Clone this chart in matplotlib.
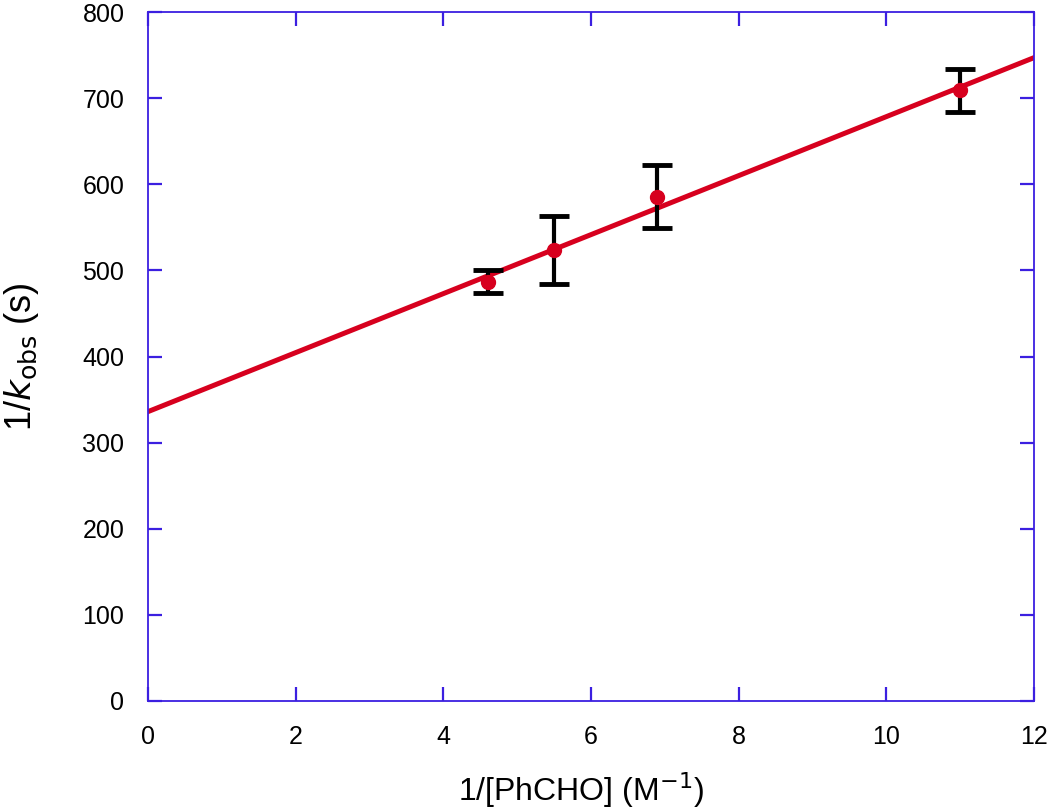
import numpy as np
import matplotlib.pyplot as plt

plt.rcParams['font.family'] = ['Liberation Sans', 'DejaVu Sans']

# Data
inv_conc = [4.6, 5.5, 6.9, 11.0]
inv_kobs = [487, 524, 585, 710]
err_low = [13, 40, 36, 26]
err_high = [13, 39, 37, 24]

fit_intercept = 336.0
fit_slope = 34.25
fit_x = [0, 12]

AXIS_BLUE = '#3b1fe0'
RED = '#d7001e'

fig = plt.figure(figsize=(10.5, 8.09), dpi=100)
ax = fig.add_axes([148 / 1050, 108 / 809, 886 / 1050, 689 / 809])

xs = np.array(fit_x, dtype=float)
ax.plot(xs, fit_intercept + fit_slope * xs, color=RED, lw=3.6, zorder=2)
ax.errorbar(inv_conc, inv_kobs, yerr=[err_low, err_high], fmt='none',
            ecolor='black', elinewidth=3.0, capsize=11, capthick=3.5, zorder=3)
ax.plot(inv_conc, inv_kobs, 'o', color=RED, ms=10, zorder=4)

ax.set_xlim(0, 12)
ax.set_ylim(0, 800)
ax.set_xticks(range(0, 13, 2))
ax.set_yticks(range(0, 801, 100))

for s in ax.spines.values():
    s.set_color(AXIS_BLUE)
    s.set_linewidth(1.3)
ax.tick_params(direction='in', length=10, width=1.6, color=AXIS_BLUE,
               top=True, right=True, labelsize=18)
ax.tick_params(axis='x', pad=17)
ax.tick_params(axis='y', pad=17)

ax.set_xlabel('1/[PhCHO] (M$^{-1}$)', fontsize=23)
ax.xaxis.set_label_coords(0.489, -0.101, transform=ax.transAxes)
ax.xaxis.label.set_va('top')
ax.set_ylabel(r'1/$k_{\rm obs}$ (s)', fontsize=26, labelpad=30)

fig.savefig('out.png', dpi=100)
